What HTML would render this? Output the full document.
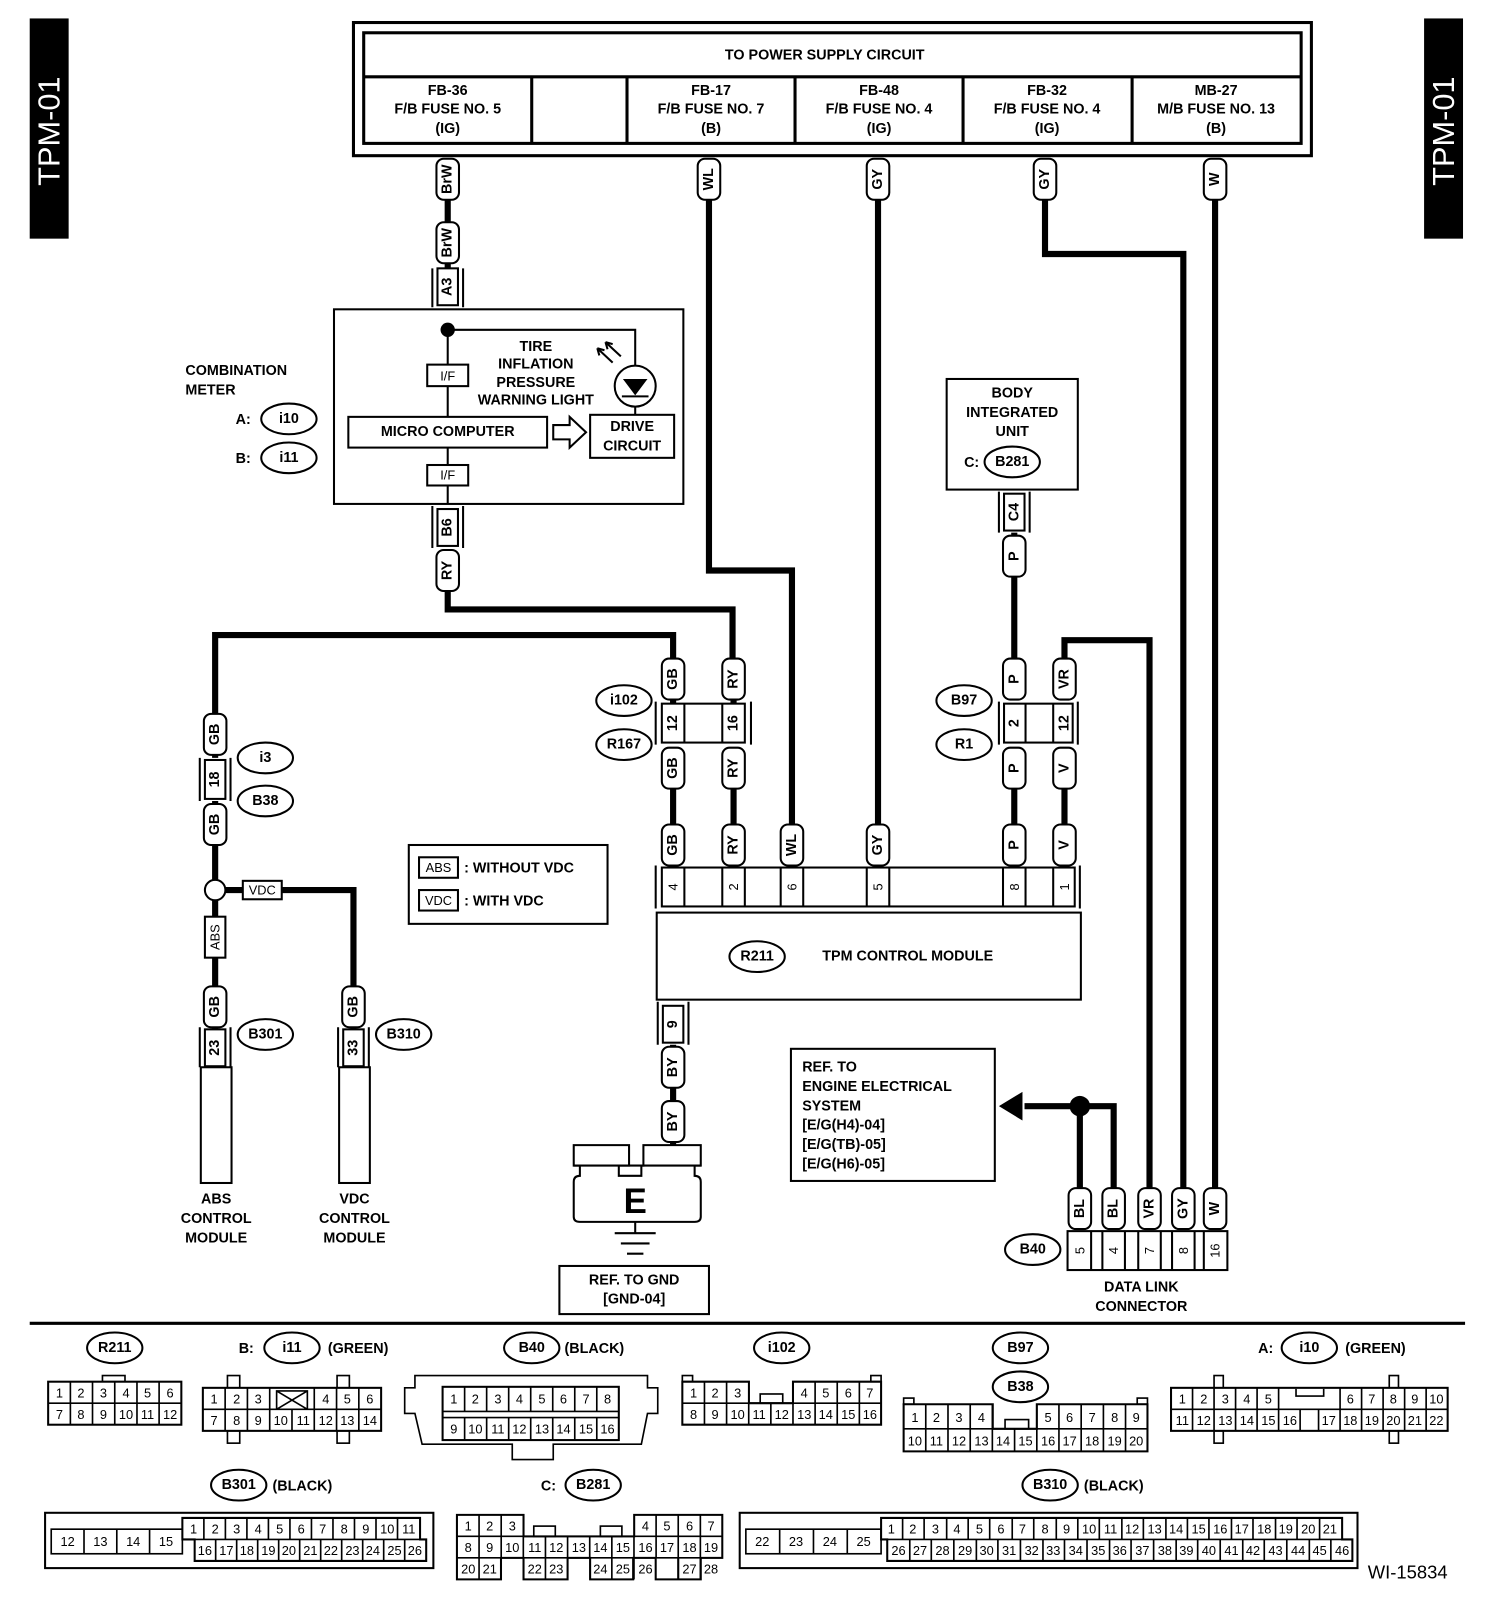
<!DOCTYPE html>
<html><head><meta charset="utf-8"><style>
html,body{margin:0;padding:0;background:#fff}
svg{display:block}
text{font-family:"Liberation Sans",Arial,sans-serif;font-weight:bold;font-size:14px;fill:#000}
.t{text-anchor:middle;dominant-baseline:central}
.s{font-size:12.5px;font-weight:normal}
.w{fill:none;stroke:#000;stroke-width:6}
.b{fill:#fff;stroke:#000;stroke-width:2}
.n{fill:none;stroke:#000;stroke-width:2}
.g{fill:none;stroke:#000;stroke-width:1.6}
</style></head><body>
<svg width="1504" height="1606" viewBox="0 0 1468 1568" preserveAspectRatio="none" xmlns="http://www.w3.org/2000/svg">
<!-- side tabs -->
<rect x="29" y="18" width="38" height="215" fill="#000"/>
<text class="t" transform="translate(48,128) rotate(-90)" style="fill:#fff;font-size:30px;font-weight:normal">TPM-01</text>
<rect x="1390" y="18" width="38" height="215" fill="#000"/>
<text class="t" transform="translate(1409,128) rotate(-90)" style="fill:#fff;font-size:30px;font-weight:normal">TPM-01</text>

<!-- power supply box -->
<rect x="345" y="22" width="935" height="130" fill="none" stroke="#000" stroke-width="3"/>
<rect x="355" y="32" width="915" height="108" fill="none" stroke="#000" stroke-width="3"/>
<line x1="355" y1="75" x2="1270" y2="75" stroke="#000" stroke-width="3"/>
<g stroke="#000" stroke-width="3"><line x1="519" y1="75" x2="519" y2="140"/><line x1="612" y1="75" x2="612" y2="140"/><line x1="776" y1="75" x2="776" y2="140"/><line x1="940" y1="75" x2="940" y2="140"/><line x1="1105" y1="75" x2="1105" y2="140"/></g>
<text class="t" x="805" y="54">TO POWER SUPPLY CIRCUIT</text>
<text class="t" x="437" y="89">FB-36</text><text class="t" x="437" y="107">F/B FUSE NO. 5</text><text class="t" x="437" y="126">(IG)</text>
<text class="t" x="694" y="89">FB-17</text><text class="t" x="694" y="107">F/B FUSE NO. 7</text><text class="t" x="694" y="126">(B)</text>
<text class="t" x="858" y="89">FB-48</text><text class="t" x="858" y="107">F/B FUSE NO. 4</text><text class="t" x="858" y="126">(IG)</text>
<text class="t" x="1022" y="89">FB-32</text><text class="t" x="1022" y="107">F/B FUSE NO. 4</text><text class="t" x="1022" y="126">(IG)</text>
<text class="t" x="1187" y="89">MB-27</text><text class="t" x="1187" y="107">M/B FUSE NO. 13</text><text class="t" x="1187" y="126">(B)</text>

<!-- wires -->
<path class="w" d="M437 195V262 M692 195V557H773V805 M857 195V805 M1020 195V248H1155V1160 M1186 195V1160"/>
<path class="w" d="M437 577V595H715V643 M210 697V620H657V643"/>
<path class="w" d="M990 560V643 M1039 643V625H1122V1160"/>
<path class="w" d="M657 770V805 M716 770V805 M990 770V805 M1039 770V805 M657 683V687 M716 683V687"/>
<path class="w" d="M210 737V740 M210 782V785 M210 825V859 M220 869H345V965 M210 879V895 M210 935V965 M210 1000V1005"/>
<path class="w" d="M345 1000V1005 M657 1020V1022 M657 1062V1075 M657 1115V1118 M990 520V525"/>
<path class="w" d="M1054 1080V1160 M1000 1080H1087V1160"/>
<polygon points="975,1080 998,1066 998,1094"/>
<circle cx="1054" cy="1080" r="10"/>

<!-- pills -->
<g>
<rect class="b" x="426" y="155" width="22" height="40" rx="7"/><text class="t" transform="translate(437,175) rotate(-90)">BrW</text>
<rect class="b" x="426" y="217" width="22" height="40" rx="7"/><text class="t" transform="translate(437,237) rotate(-90)">BrW</text>
<rect class="b" x="681" y="155" width="22" height="40" rx="7"/><text class="t" transform="translate(692,175) rotate(-90)">WL</text>
<rect class="b" x="846" y="155" width="22" height="40" rx="7"/><text class="t" transform="translate(857,175) rotate(-90)">GY</text>
<rect class="b" x="1009" y="155" width="22" height="40" rx="7"/><text class="t" transform="translate(1020,175) rotate(-90)">GY</text>
<rect class="b" x="1175" y="155" width="22" height="40" rx="7"/><text class="t" transform="translate(1186,175) rotate(-90)">W</text>
<rect class="b" x="426" y="537" width="22" height="40" rx="7"/><text class="t" transform="translate(437,557) rotate(-90)">RY</text>
<rect class="b" x="646" y="643" width="22" height="40" rx="7"/><text class="t" transform="translate(657,663) rotate(-90)">GB</text>
<rect class="b" x="705" y="643" width="22" height="40" rx="7"/><text class="t" transform="translate(716,663) rotate(-90)">RY</text>
<rect class="b" x="646" y="730" width="22" height="40" rx="7"/><text class="t" transform="translate(657,750) rotate(-90)">GB</text>
<rect class="b" x="705" y="730" width="22" height="40" rx="7"/><text class="t" transform="translate(716,750) rotate(-90)">RY</text>
<rect class="b" x="646" y="805" width="22" height="40" rx="7"/><text class="t" transform="translate(657,825) rotate(-90)">GB</text>
<rect class="b" x="705" y="805" width="22" height="40" rx="7"/><text class="t" transform="translate(716,825) rotate(-90)">RY</text>
<rect class="b" x="762" y="805" width="22" height="40" rx="7"/><text class="t" transform="translate(773,825) rotate(-90)">WL</text>
<rect class="b" x="846" y="805" width="22" height="40" rx="7"/><text class="t" transform="translate(857,825) rotate(-90)">GY</text>
<rect class="b" x="979" y="805" width="22" height="40" rx="7"/><text class="t" transform="translate(990,825) rotate(-90)">P</text>
<rect class="b" x="1028" y="805" width="22" height="40" rx="7"/><text class="t" transform="translate(1039,825) rotate(-90)">V</text>
<rect class="b" x="979" y="730" width="22" height="40" rx="7"/><text class="t" transform="translate(990,750) rotate(-90)">P</text>
<rect class="b" x="1028" y="730" width="22" height="40" rx="7"/><text class="t" transform="translate(1039,750) rotate(-90)">V</text>
<rect class="b" x="979" y="643" width="22" height="40" rx="7"/><text class="t" transform="translate(990,663) rotate(-90)">P</text>
<rect class="b" x="1028" y="643" width="22" height="40" rx="7"/><text class="t" transform="translate(1039,663) rotate(-90)">VR</text>
<rect class="b" x="979" y="523" width="22" height="40" rx="7"/><text class="t" transform="translate(990,543) rotate(-90)">P</text>
<rect class="b" x="199" y="697" width="22" height="40" rx="7"/><text class="t" transform="translate(210,717) rotate(-90)">GB</text>
<rect class="b" x="199" y="785" width="22" height="40" rx="7"/><text class="t" transform="translate(210,805) rotate(-90)">GB</text>
<rect class="b" x="199" y="963" width="22" height="40" rx="7"/><text class="t" transform="translate(210,983) rotate(-90)">GB</text>
<rect class="b" x="334" y="963" width="22" height="40" rx="7"/><text class="t" transform="translate(345,983) rotate(-90)">GB</text>
<rect class="b" x="646" y="1022" width="22" height="40" rx="7"/><text class="t" transform="translate(657,1042) rotate(-90)">BY</text>
<rect class="b" x="646" y="1075" width="22" height="40" rx="7"/><text class="t" transform="translate(657,1095) rotate(-90)">BY</text>
<rect class="b" x="1043" y="1160" width="22" height="40" rx="7"/><text class="t" transform="translate(1054,1180) rotate(-90)">BL</text>
<rect class="b" x="1076" y="1160" width="22" height="40" rx="7"/><text class="t" transform="translate(1087,1180) rotate(-90)">BL</text>
<rect class="b" x="1111" y="1160" width="22" height="40" rx="7"/><text class="t" transform="translate(1122,1180) rotate(-90)">VR</text>
<rect class="b" x="1144" y="1160" width="22" height="40" rx="7"/><text class="t" transform="translate(1155,1180) rotate(-90)">GY</text>
<rect class="b" x="1175" y="1160" width="22" height="40" rx="7"/><text class="t" transform="translate(1186,1180) rotate(-90)">W</text>
</g>

<!-- single connectors -->
<g>
<rect class="b" x="427" y="262" width="20" height="36"/><path class="n" d="M422 262V300M452 262V300"/><text class="t" transform="translate(437,280) rotate(-90)">A3</text>
<rect class="b" x="427" y="497" width="20" height="36"/><path class="n" d="M422 494V535M452 494V535"/><text class="t" transform="translate(437,515) rotate(-90)">B6</text>
<rect class="b" x="200" y="742" width="20" height="38"/><path class="n" d="M195 740V782M225 740V782"/><text class="t" transform="translate(210,761) rotate(-90)">18</text>
<rect class="b" x="200" y="1005" width="20" height="36"/><path class="n" d="M195 1003V1042M225 1003V1042"/><text class="t" transform="translate(210,1023) rotate(-90)">23</text>
<rect class="b" x="335" y="1005" width="20" height="36"/><path class="n" d="M330 1003V1042M360 1003V1042"/><text class="t" transform="translate(345,1023) rotate(-90)">33</text>
<rect class="b" x="980" y="482" width="20" height="36"/><path class="n" d="M975 480V520M1005 480V520"/><text class="t" transform="translate(990,500) rotate(-90)">C4</text>
<rect class="b" x="647" y="982" width="20" height="36"/><path class="n" d="M642 978V1020M672 978V1020"/><text class="t" transform="translate(657,1000) rotate(-90)">9</text>
</g>
<!-- modules -->
<rect class="b" x="196" y="1042" width="30" height="113"/>
<rect class="b" x="331" y="1042" width="30" height="113"/>
<text class="t" x="211" y="1171">ABS</text><text class="t" x="211" y="1190">CONTROL</text><text class="t" x="211" y="1209">MODULE</text>
<text class="t" x="346" y="1171">VDC</text><text class="t" x="346" y="1190">CONTROL</text><text class="t" x="346" y="1209">MODULE</text>
<circle cx="210" cy="869" r="10" class="b"/>
<rect class="b" x="237" y="860" width="38" height="18"/><text class="t s" x="256" y="869">VDC</text>
<rect class="b" x="200" y="895" width="20" height="40"/><text class="t s" transform="translate(210,915) rotate(-90)">ABS</text>

<!-- ellipses -->
<g>
<ellipse class="b" cx="259" cy="740" rx="27" ry="15"/><text class="t" x="259" y="740">i3</text>
<ellipse class="b" cx="259" cy="782" rx="27" ry="15"/><text class="t" x="259" y="782">B38</text>
<ellipse class="b" cx="259" cy="1010" rx="27" ry="15"/><text class="t" x="259" y="1010">B301</text>
<ellipse class="b" cx="394" cy="1010" rx="27" ry="15"/><text class="t" x="394" y="1010">B310</text>
<ellipse class="b" cx="609" cy="684" rx="27" ry="15"/><text class="t" x="609" y="684">i102</text>
<ellipse class="b" cx="609" cy="727" rx="27" ry="15"/><text class="t" x="609" y="727">R167</text>
<ellipse class="b" cx="941" cy="684" rx="27" ry="15"/><text class="t" x="941" y="684">B97</text>
<ellipse class="b" cx="941" cy="727" rx="27" ry="15"/><text class="t" x="941" y="727">R1</text>
<ellipse class="b" cx="1008" cy="1220" rx="27" ry="15"/><text class="t" x="1008" y="1220">B40</text>
<ellipse class="b" cx="282" cy="409" rx="27" ry="15"/><text class="t" x="282" y="409">i10</text>
<ellipse class="b" cx="282" cy="447" rx="27" ry="15"/><text class="t" x="282" y="447">i11</text>
</g>
<text x="181" y="366">COMBINATION</text><text x="181" y="385">METER</text>
<text x="230" y="414">A:</text><text x="230" y="452">B:</text>

<!-- combination meter -->
<rect class="b" x="326" y="302" width="341" height="190"/>
<path class="n" d="M437 322H620V357 M437 322V407 M437 437V492 M620 397V405"/>
<circle cx="437" cy="322" r="7"/>
<circle class="b" cx="620" cy="377" r="20"/>
<polygon points="608,370 632,370 620,386"/><line x1="607" y1="387" x2="633" y2="387" stroke="#000" stroke-width="2"/>
<path class="n" d="M598 354L583 340M583 340l2 7M583 340l7 2M606 348L591 334M591 334l2 7M591 334l7 2"/>
<rect class="b" x="417" y="356" width="40" height="21"/><text class="t s" x="437" y="367">I/F</text>
<rect class="b" x="417" y="454" width="40" height="20"/><text class="t s" x="437" y="464">I/F</text>
<rect class="b" x="340" y="407" width="194" height="30"/><text class="t" x="437" y="422">MICRO COMPUTER</text>
<polygon class="b" points="540,415 556,415 556,407 572,422 556,437 556,429 540,429"/>
<rect class="b" x="576" y="405" width="82" height="42"/><text class="t" x="617" y="417">DRIVE</text><text class="t" x="617" y="436">CIRCUIT</text>
<text class="t" x="523" y="339">TIRE</text><text class="t" x="523" y="356">INFLATION</text><text class="t" x="523" y="374">PRESSURE</text><text class="t" x="523" y="391">WARNING LIGHT</text>

<!-- i102 / R167 joint -->
<rect class="b" x="646" y="687" width="81" height="38"/>
<path class="n" d="M668 687V725M705 687V725M640 685V727M733 685V727"/>
<text class="t" transform="translate(657,706) rotate(-90)">12</text><text class="t" transform="translate(716,706) rotate(-90)">16</text>
<rect class="b" x="980" y="687" width="67" height="38"/>
<path class="n" d="M1001 687V725M1028 687V725M975 685V727M1052 685V727"/>
<text class="t" transform="translate(990,706) rotate(-90)">2</text><text class="t" transform="translate(1039,706) rotate(-90)">12</text>

<!-- TPM module -->
<rect class="b" x="646" y="847" width="403" height="38"/>
<path class="n" d="M640 845V887M1054 845V887 M668 847V885M705 847V885M727 847V885M762 847V885M784 847V885M846 847V885M868 847V885M979 847V885M1001 847V885M1028 847V885"/>
<text class="t s" transform="translate(657,866) rotate(-90)">4</text><text class="t s" transform="translate(716,866) rotate(-90)">2</text><text class="t s" transform="translate(773,866) rotate(-90)">6</text><text class="t s" transform="translate(857,866) rotate(-90)">5</text><text class="t s" transform="translate(990,866) rotate(-90)">8</text><text class="t s" transform="translate(1039,866) rotate(-90)">1</text>
<rect class="b" x="641" y="891" width="414" height="85"/>
<ellipse class="b" cx="739" cy="934" rx="27" ry="15"/><text class="t" x="739" y="934">R211</text>
<text class="t" x="886" y="934">TPM CONTROL MODULE</text>

<!-- body integrated unit -->
<rect class="b" x="924" y="370" width="128" height="108"/>
<text class="t" x="988" y="384">BODY</text><text class="t" x="988" y="403">INTEGRATED</text><text class="t" x="988" y="422">UNIT</text>
<text x="941" y="456">C:</text><ellipse class="b" cx="988" cy="451" rx="27" ry="15"/><text class="t" x="988" y="451">B281</text>

<!-- legend -->
<rect class="b" x="399" y="825" width="194" height="77"/>
<rect class="b" x="409" y="837" width="38" height="20"/><text class="t s" x="428" y="847">ABS</text><text x="453" y="852">: WITHOUT VDC</text>
<rect class="b" x="409" y="869" width="38" height="20"/><text class="t s" x="428" y="879">VDC</text><text x="453" y="884">: WITH VDC</text>

<!-- ref engine -->
<rect class="b" x="772" y="1024" width="199" height="129"/>
<text x="783" y="1046">REF. TO</text><text x="783" y="1065">ENGINE ELECTRICAL</text><text x="783" y="1084">SYSTEM</text><text x="783" y="1103">[E/G(H4)-04]</text><text x="783" y="1122">[E/G(TB)-05]</text><text x="783" y="1141">[E/G(H6)-05]</text>

<!-- data link -->
<rect class="b" x="1042" y="1202" width="156" height="38"/>
<path class="n" d="M1065 1202V1240M1076 1202V1240M1098 1202V1240M1111 1202V1240M1133 1202V1240M1144 1202V1240M1166 1202V1240M1175 1202V1240"/>
<text class="t s" transform="translate(1054,1221) rotate(-90)">5</text><text class="t s" transform="translate(1087,1221) rotate(-90)">4</text><text class="t s" transform="translate(1122,1221) rotate(-90)">7</text><text class="t s" transform="translate(1155,1221) rotate(-90)">8</text><text class="t s" transform="translate(1186,1221) rotate(-90)">16</text>
<text class="t" x="1114" y="1257">DATA LINK</text><text class="t" x="1114" y="1276">CONNECTOR</text>

<!-- ground -->
<path class="b" d="M560 1118H614V1138H604V1148H626V1138H628V1118H684V1138H678V1148 Q684 1148 684 1154V1188 Q684 1193 678 1193H566 Q560 1193 560 1188V1154 Q560 1148 566 1148V1138H560Z"/>
<line x1="560" y1="1138" x2="684" y2="1138" stroke="#000" stroke-width="2"/>
<text class="t" x="620" y="1173" style="font-size:34px">E</text>
<path class="n" d="M620 1193V1203 M600 1204H640 M606 1214H634 M612 1224H628" stroke-width="3"/>
<rect class="b" x="546" y="1236" width="146" height="47"/>
<text class="t" x="619" y="1250">REF. TO GND</text><text class="t" x="619" y="1269">[GND-04]</text>

<line x1="29" y1="1292" x2="1430" y2="1292" stroke="#000" stroke-width="3"/>

<!-- bottom connectors -->
<g class="s">
<!-- R211 -->
<ellipse class="b" cx="112" cy="1316" rx="27" ry="15"/><text class="t" x="112" y="1316">R211</text>
<rect class="g" x="100" y="1343" width="22" height="6"/>
<rect class="b" x="47" y="1349" width="130" height="42"/>
<path class="g" d="M47 1370H177M68.7 1349V1391M90.3 1349V1391M112 1349V1391M133.7 1349V1391M155.3 1349V1391"/>
<text class="t s" x="58" y="1360">1</text><text class="t s" x="79" y="1360">2</text><text class="t s" x="101" y="1360">3</text><text class="t s" x="123" y="1360">4</text><text class="t s" x="144" y="1360">5</text><text class="t s" x="166" y="1360">6</text>
<text class="t s" x="58" y="1381">7</text><text class="t s" x="79" y="1381">8</text><text class="t s" x="101" y="1381">9</text><text class="t s" x="123" y="1381">10</text><text class="t s" x="144" y="1381">11</text><text class="t s" x="166" y="1381">12</text>

<!-- i11 -->
<text x="233" y="1321">B:</text><ellipse class="b" cx="285" cy="1316" rx="27" ry="15"/><text class="t" x="285" y="1316">i11</text><text x="320" y="1321">(GREEN)</text>
<rect class="g" x="222" y="1343" width="12" height="12"/><rect class="g" x="329" y="1343" width="12" height="12"/><rect class="g" x="222" y="1397" width="12" height="12"/><rect class="g" x="329" y="1397" width="12" height="12"/>
<rect class="b" x="198" y="1355" width="174" height="42"/>
<path class="g" d="M198 1376H372M219.75 1355V1397M241.5 1355V1397M263.25 1355V1397M285 1376V1397M306.75 1355V1397M328.5 1355V1397M350.25 1355V1397M270 1358H300V1376H270ZM270 1358L300 1376M300 1358L270 1376"/>
<text class="t s" x="209" y="1366">1</text><text class="t s" x="231" y="1366">2</text><text class="t s" x="252" y="1366">3</text><text class="t s" x="318" y="1366">4</text><text class="t s" x="339" y="1366">5</text><text class="t s" x="361" y="1366">6</text>
<text class="t s" x="209" y="1387">7</text><text class="t s" x="231" y="1387">8</text><text class="t s" x="252" y="1387">9</text><text class="t s" x="274" y="1387">10</text><text class="t s" x="296" y="1387">11</text><text class="t s" x="318" y="1387">12</text><text class="t s" x="339" y="1387">13</text><text class="t s" x="361" y="1387">14</text>

<!-- B40 -->
<ellipse class="b" cx="519" cy="1316" rx="27" ry="15"/><text class="t" x="519" y="1316">B40</text><text x="551" y="1321">(BLACK)</text>
<path class="g" d="M405 1343H632V1355H642V1380H632L626 1410H540V1425H500V1410H412L405 1380H395V1355H405Z"/>
<rect class="b" x="432" y="1354" width="172" height="52"/>
<path class="g" d="M432 1378H604M432 1384H604M453.5 1354V1378M475 1354V1378M496.5 1354V1378M518 1354V1378M539.5 1354V1378M561 1354V1378M582.5 1354V1378M453.5 1384V1406M475 1384V1406M496.5 1384V1406M518 1384V1406M539.5 1384V1406M561 1384V1406M582.5 1384V1406"/>
<text class="t s" x="443" y="1366">1</text><text class="t s" x="464" y="1366">2</text><text class="t s" x="486" y="1366">3</text><text class="t s" x="507" y="1366">4</text><text class="t s" x="529" y="1366">5</text><text class="t s" x="550" y="1366">6</text><text class="t s" x="572" y="1366">7</text><text class="t s" x="593" y="1366">8</text>
<text class="t s" x="443" y="1395">9</text><text class="t s" x="464" y="1395">10</text><text class="t s" x="486" y="1395">11</text><text class="t s" x="507" y="1395">12</text><text class="t s" x="529" y="1395">13</text><text class="t s" x="550" y="1395">14</text><text class="t s" x="572" y="1395">15</text><text class="t s" x="593" y="1395">16</text>

<!-- i102 -->
<ellipse class="b" cx="763" cy="1316" rx="27" ry="15"/><text class="t" x="763" y="1316">i102</text>
<rect class="g" x="666" y="1343" width="10" height="6"/><rect class="g" x="850" y="1343" width="10" height="6"/>
<path class="b" d="M666 1349H731V1370H774V1349H860V1391H666Z"/>
<rect class="g" x="742" y="1361" width="22" height="9"/>
<path class="g" d="M666 1370H860M687.6 1349V1391M709.2 1349V1391M730.8 1370V1391M752.4 1370V1391M774 1349V1391M795.6 1349V1391M817.2 1349V1391M838.8 1349V1391"/>
<text class="t s" x="677" y="1360">1</text><text class="t s" x="698" y="1360">2</text><text class="t s" x="720" y="1360">3</text><text class="t s" x="785" y="1360">4</text><text class="t s" x="806" y="1360">5</text><text class="t s" x="828" y="1360">6</text><text class="t s" x="849" y="1360">7</text>
<text class="t s" x="677" y="1381">8</text><text class="t s" x="698" y="1381">9</text><text class="t s" x="720" y="1381">10</text><text class="t s" x="741" y="1381">11</text><text class="t s" x="763" y="1381">12</text><text class="t s" x="785" y="1381">13</text><text class="t s" x="806" y="1381">14</text><text class="t s" x="828" y="1381">15</text><text class="t s" x="849" y="1381">16</text>

<!-- B97 / B38 -->
<ellipse class="b" cx="996" cy="1316" rx="27" ry="15"/><text class="t" x="996" y="1316">B97</text>
<ellipse class="b" cx="996" cy="1354" rx="27" ry="15"/><text class="t" x="996" y="1354">B38</text>
<rect class="g" x="882" y="1365" width="10" height="6"/><rect class="g" x="1110" y="1365" width="10" height="6"/>
<path class="b" d="M882 1371H969V1395H1012V1371H1120V1417H882Z"/>
<rect class="g" x="981" y="1386" width="23" height="9"/>
<path class="g" d="M882 1395H1120M903.6 1371V1417M925.3 1371V1417M947 1371V1417M968.6 1371V1417M990.3 1395V1417M1012 1371V1417M1033.6 1371V1417M1055.3 1371V1417M1077 1371V1417M1098.6 1371V1417"/>
<text class="t s" x="893" y="1384">1</text><text class="t s" x="914" y="1384">2</text><text class="t s" x="936" y="1384">3</text><text class="t s" x="958" y="1384">4</text><text class="t s" x="1023" y="1384">5</text><text class="t s" x="1044" y="1384">6</text><text class="t s" x="1066" y="1384">7</text><text class="t s" x="1088" y="1384">8</text><text class="t s" x="1109" y="1384">9</text>
<text class="t s" x="893" y="1407">10</text><text class="t s" x="914" y="1407">11</text><text class="t s" x="936" y="1407">12</text><text class="t s" x="958" y="1407">13</text><text class="t s" x="979" y="1407">14</text><text class="t s" x="1001" y="1407">15</text><text class="t s" x="1023" y="1407">16</text><text class="t s" x="1044" y="1407">17</text><text class="t s" x="1066" y="1407">18</text><text class="t s" x="1088" y="1407">19</text><text class="t s" x="1109" y="1407">20</text>

<!-- i10 -->
<text x="1228" y="1321">A:</text><ellipse class="b" cx="1278" cy="1316" rx="27" ry="15"/><text class="t" x="1278" y="1316">i10</text><text x="1313" y="1321">(GREEN)</text>
<rect class="g" x="1185" y="1343" width="9" height="12"/><rect class="g" x="1356" y="1343" width="9" height="12"/><rect class="g" x="1185" y="1397" width="9" height="12"/><rect class="g" x="1356" y="1397" width="9" height="12"/>
<rect class="b" x="1143" y="1355" width="270" height="42"/>
<path class="g" d="M1143 1376H1413M1164 1355V1397M1185 1355V1397M1206 1355V1397M1227 1355V1397M1248 1355V1397M1269 1376V1397M1287 1376V1397M1308 1355V1397M1329 1355V1397M1350 1355V1397M1371 1355V1397M1392 1355V1397M1265 1356V1363H1292V1356"/>
<text class="t s" x="1154" y="1366">1</text><text class="t s" x="1175" y="1366">2</text><text class="t s" x="1196" y="1366">3</text><text class="t s" x="1217" y="1366">4</text><text class="t s" x="1238" y="1366">5</text><text class="t s" x="1318" y="1366">6</text><text class="t s" x="1339" y="1366">7</text><text class="t s" x="1360" y="1366">8</text><text class="t s" x="1381" y="1366">9</text><text class="t s" x="1402" y="1366">10</text>
<text class="t s" x="1154" y="1387">11</text><text class="t s" x="1175" y="1387">12</text><text class="t s" x="1196" y="1387">13</text><text class="t s" x="1217" y="1387">14</text><text class="t s" x="1238" y="1387">15</text><text class="t s" x="1259" y="1387">16</text><text class="t s" x="1297" y="1387">17</text><text class="t s" x="1318" y="1387">18</text><text class="t s" x="1339" y="1387">19</text><text class="t s" x="1360" y="1387">20</text><text class="t s" x="1381" y="1387">21</text><text class="t s" x="1402" y="1387">22</text>

<!-- B301 -->
<ellipse class="b" cx="233" cy="1450" rx="27" ry="15"/><text class="t" x="233" y="1450">B301</text><text x="266" y="1455">(BLACK)</text>
<rect class="b" x="44" y="1477" width="379" height="54"/>
<rect class="g" x="50" y="1493" width="128" height="24"/>
<path class="g" d="M82 1493V1517M114 1493V1517M146 1493V1517"/>
<text class="t s" x="66" y="1505">12</text><text class="t s" x="98" y="1505">13</text><text class="t s" x="130" y="1505">14</text><text class="t s" x="162" y="1505">15</text>
<path class="b" d="M178 1482H410V1503H416V1524H190V1503H178Z"/>
<path class="g" d="M178 1503H416M199 1482V1503M220 1482V1503M241 1482V1503M262 1482V1503M283 1482V1503M304 1482V1503M325 1482V1503M346 1482V1503M367 1482V1503M388 1482V1503M210.5 1503V1524M231 1503V1524M251.5 1503V1524M272 1503V1524M292.5 1503V1524M313 1503V1524M333.5 1503V1524M354 1503V1524M374.5 1503V1524M395 1503V1524"/>
<text class="t s" x="189" y="1493">1</text><text class="t s" x="210" y="1493">2</text><text class="t s" x="231" y="1493">3</text><text class="t s" x="252" y="1493">4</text><text class="t s" x="273" y="1493">5</text><text class="t s" x="294" y="1493">6</text><text class="t s" x="315" y="1493">7</text><text class="t s" x="336" y="1493">8</text><text class="t s" x="357" y="1493">9</text><text class="t s" x="378" y="1493">10</text><text class="t s" x="399" y="1493">11</text>
<text class="t s" x="200" y="1514">16</text><text class="t s" x="221" y="1514">17</text><text class="t s" x="241" y="1514">18</text><text class="t s" x="262" y="1514">19</text><text class="t s" x="282" y="1514">20</text><text class="t s" x="303" y="1514">21</text><text class="t s" x="323" y="1514">22</text><text class="t s" x="344" y="1514">23</text><text class="t s" x="364" y="1514">24</text><text class="t s" x="385" y="1514">25</text><text class="t s" x="405" y="1514">26</text>

<!-- B281 -->
<text x="528" y="1455">C:</text><ellipse class="b" cx="579" cy="1450" rx="27" ry="15"/><text class="t" x="579" y="1450">B281</text>
<path class="b" d="M446 1479H511V1500H619V1479H705V1521H684V1542H662V1521H662V1542H640V1521H618V1542H576V1521H554V1542H511V1521H489V1542H446Z"/>
<rect class="g" x="521" y="1490" width="21" height="10"/><rect class="g" x="586" y="1490" width="21" height="10"/>
<path class="g" d="M446 1500H705M446 1521H705M467.6 1479V1542M489.2 1479V1521M510.8 1500V1521M532.4 1500V1542M554 1500V1521M575.6 1500V1521M597.2 1500V1542M618.8 1500V1542M640.4 1479V1521M662 1479V1521M683.6 1479V1542M511 1521V1542M576 1521V1542M662 1521V1542"/>
<text class="t s" x="457" y="1490">1</text><text class="t s" x="478" y="1490">2</text><text class="t s" x="500" y="1490">3</text><text class="t s" x="630" y="1490">4</text><text class="t s" x="651" y="1490">5</text><text class="t s" x="673" y="1490">6</text><text class="t s" x="694" y="1490">7</text>
<text class="t s" x="457" y="1511">8</text><text class="t s" x="478" y="1511">9</text><text class="t s" x="500" y="1511">10</text><text class="t s" x="522" y="1511">11</text><text class="t s" x="543" y="1511">12</text><text class="t s" x="565" y="1511">13</text><text class="t s" x="586" y="1511">14</text><text class="t s" x="608" y="1511">15</text><text class="t s" x="630" y="1511">16</text><text class="t s" x="651" y="1511">17</text><text class="t s" x="673" y="1511">18</text><text class="t s" x="694" y="1511">19</text>
<text class="t s" x="457" y="1532">20</text><text class="t s" x="478" y="1532">21</text><text class="t s" x="522" y="1532">22</text><text class="t s" x="543" y="1532">23</text><text class="t s" x="586" y="1532">24</text><text class="t s" x="608" y="1532">25</text><text class="t s" x="630" y="1532">26</text><text class="t s" x="673" y="1532">27</text><text class="t s" x="694" y="1532">28</text>

<!-- B310 -->
<ellipse class="b" cx="1025" cy="1450" rx="27" ry="15"/><text class="t" x="1025" y="1450">B310</text><text x="1058" y="1455">(BLACK)</text>
<rect class="b" x="722" y="1477" width="603" height="54"/>
<rect class="g" x="728" y="1493" width="132" height="24"/>
<path class="g" d="M761 1493V1517M794 1493V1517M827 1493V1517"/>
<text class="t s" x="744" y="1505">22</text><text class="t s" x="777" y="1505">23</text><text class="t s" x="810" y="1505">24</text><text class="t s" x="843" y="1505">25</text>
<path class="b" d="M860 1482H1310V1503H1320V1524H866V1503H860Z"/>
<path class="g" d="M860 1503H1320"/>
<text class="t s" x="870" y="1493">1</text><text class="t s" x="891" y="1493">2</text><text class="t s" x="913" y="1493">3</text><text class="t s" x="934" y="1493">4</text><text class="t s" x="956" y="1493">5</text><text class="t s" x="977" y="1493">6</text><text class="t s" x="998" y="1493">7</text><text class="t s" x="1020" y="1493">8</text><text class="t s" x="1041" y="1493">9</text><text class="t s" x="1063" y="1493">10</text><text class="t s" x="1084" y="1493">11</text><text class="t s" x="1105" y="1493">12</text><text class="t s" x="1127" y="1493">13</text><text class="t s" x="1148" y="1493">14</text><text class="t s" x="1170" y="1493">15</text><text class="t s" x="1191" y="1493">16</text><text class="t s" x="1212" y="1493">17</text><text class="t s" x="1234" y="1493">18</text><text class="t s" x="1255" y="1493">19</text><text class="t s" x="1277" y="1493">20</text><text class="t s" x="1298" y="1493">21</text>
<text class="t s" x="877" y="1514">26</text><text class="t s" x="898" y="1514">27</text><text class="t s" x="920" y="1514">28</text><text class="t s" x="942" y="1514">29</text><text class="t s" x="963" y="1514">30</text><text class="t s" x="985" y="1514">31</text><text class="t s" x="1007" y="1514">32</text><text class="t s" x="1028" y="1514">33</text><text class="t s" x="1050" y="1514">34</text><text class="t s" x="1072" y="1514">35</text><text class="t s" x="1093" y="1514">36</text><text class="t s" x="1115" y="1514">37</text><text class="t s" x="1137" y="1514">38</text><text class="t s" x="1158" y="1514">39</text><text class="t s" x="1180" y="1514">40</text><text class="t s" x="1202" y="1514">41</text><text class="t s" x="1223" y="1514">42</text><text class="t s" x="1245" y="1514">43</text><text class="t s" x="1267" y="1514">44</text><text class="t s" x="1288" y="1514">45</text><text class="t s" x="1310" y="1514">46</text>
<path class="g" d="M881 1482V1503M902 1482V1503M924 1482V1503M945 1482V1503M966 1482V1503M988 1482V1503M1009 1482V1503M1031 1482V1503M1052 1482V1503M1073 1482V1503M1095 1482V1503M1116 1482V1503M1138 1482V1503M1159 1482V1503M1180 1482V1503M1202 1482V1503M1223 1482V1503M1245 1482V1503M1266 1482V1503M1288 1482V1503 M888 1503V1524M909 1503V1524M931 1503V1524M953 1503V1524M974 1503V1524M996 1503V1524M1018 1503V1524M1039 1503V1524M1061 1503V1524M1083 1503V1524M1104 1503V1524M1126 1503V1524M1148 1503V1524M1169 1503V1524M1191 1503V1524M1213 1503V1524M1234 1503V1524M1256 1503V1524M1278 1503V1524M1299 1503V1524"/>
</g>
<text x="1335" y="1541" style="font-weight:normal;font-size:18px">WI-15834</text>
</svg>
</body></html>
